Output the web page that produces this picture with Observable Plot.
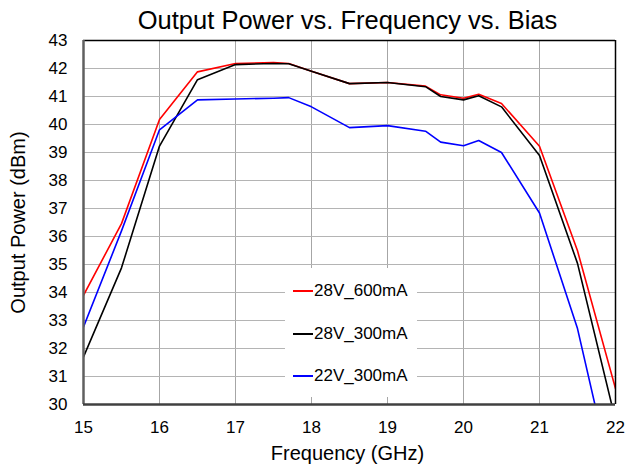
<!DOCTYPE html>
<html>
<head>
<meta charset="utf-8">
<script src="https://cdn.jsdelivr.net/npm/d3@7"></script>
<script src="https://cdn.jsdelivr.net/npm/@observablehq/plot@0.6"></script>
<style>
  html, body { margin: 0; padding: 0; background: #fff; }
  #wrap { position: relative; width: 626px; height: 465px; font-family: "Liberation Sans", Arial, sans-serif; }
  #legend { position: absolute; left: 285px; top: 268px; width: 132px; height: 129px; background: #fff; }
  .item { position: absolute; left: 8px; height: 22px; display: flex; align-items: center; font-size: 17px; color: #000; white-space: nowrap; }
  .swatch { display: inline-block; width: 20px; height: 2px; margin-right: 1px; }
</style>
</head>
<body>
<div id="wrap"></div>
<script>
const title = "Output Power vs. Frequency vs. Bias";
const xLabel = "Frequency (GHz)";
const yLabel = "Output Power (dBm)";
const xTicks = [15, 16, 17, 18, 19, 20, 21, 22];
const yTicks = [30, 31, 32, 33, 34, 35, 36, 37, 38, 39, 40, 41, 42, 43];
const freq = [15, 15.5, 16, 16.5, 17, 17.5, 17.7, 18, 18.5, 19, 19.5, 19.7, 20, 20.2, 20.5, 21, 21.5, 22];
const s28V600 = [33.9, 36.46, 40.18, 41.88, 42.18, 42.21, 42.18, 41.9, 41.46, 41.5, 41.37, 41.06, 40.94, 41.08, 40.75, 39.22, 35.49, 30.57];
const s28V300 = [31.7, 34.88, 39.23, 41.6, 42.14, 42.18, 42.17, 41.9, 41.46, 41.5, 41.35, 41.0, 40.88, 41.03, 40.63, 38.89, 35.04, 29.44];
const s22V300 = [32.77, 36.2, 39.81, 40.88, 40.91, 40.94, 40.96, 40.63, 39.89, 39.96, 39.76, 39.37, 39.24, 39.43, 39.0, 36.84, 32.71, 26.8];
const seriesNames = ["28V_600mA", "28V_300mA", "22V_300mA"];
const seriesColors = ["#ff0000", "#000000", "#0000ff"];
const seriesValues = [s28V600, s28V300, s22V300];

const data = seriesNames.flatMap((name, k) =>
  freq.map((f, i) => ({series: name, freq: f, power: seriesValues[k][i]})));

const xDomain = [xTicks[0], xTicks[xTicks.length - 1]];
const yDomain = [yTicks[0], yTicks[yTicks.length - 1]];

const chart = Plot.plot({
  width: 626,
  height: 465,
  marginLeft: 83,
  marginRight: 11,
  marginTop: 40,
  marginBottom: 61,
  style: {fontFamily: "'Liberation Sans', Arial, sans-serif", fontSize: "17px", color: "#000", background: "#fff"},
  x: {domain: xDomain, ticks: xTicks, label: null},
  y: {domain: yDomain, ticks: yTicks, label: null},
  marks: [
    Plot.gridX(xTicks, {stroke: "#a6a6a6", strokeOpacity: 1, strokeWidth: 1}),
    Plot.gridY(yTicks, {stroke: "#b4b4b4", strokeOpacity: 1, strokeWidth: 1}),
    Plot.axisX(xTicks, {tickSize: 0, tickPadding: 16, fontSize: 17, fill: "#000", label: null}),
    Plot.axisY(yTicks, {tickSize: 0, tickPadding: 16, fontSize: 17, fill: "#000", label: null}),
    ...seriesNames.map((name, k) =>
      Plot.line(data.filter(d => d.series === name), {
        x: "freq", y: "power", stroke: seriesColors[k], strokeWidth: 1.6, clip: true
      })),
    Plot.ruleY([yDomain[1]], {stroke: "#000", strokeWidth: 1.5}),
    Plot.ruleX([xDomain[1]], {stroke: "#000", strokeWidth: 1.5}),
    Plot.ruleX([xDomain[0]], {stroke: "#606060", strokeWidth: 2.5}),
    Plot.ruleY([yDomain[0]], {stroke: "#404040", strokeWidth: 2.5}),
    Plot.text([title], {frameAnchor: "top", lineAnchor: "middle", textAnchor: "middle", dy: -20, dx: -2, fontSize: 25.5, fill: "#000"}),
    Plot.text([xLabel], {frameAnchor: "bottom", lineAnchor: "middle", textAnchor: "middle", dy: 49, dx: -2, fontSize: 20, fill: "#000"}),
    Plot.text([yLabel], {frameAnchor: "left", lineAnchor: "middle", textAnchor: "middle", dx: -65, rotate: -90, fontSize: 20, fill: "#000"})
  ]
});

const wrap = document.getElementById("wrap");
wrap.appendChild(chart);

const legend = document.createElement("div");
legend.id = "legend";
const itemTops = [12, 55, 97];
seriesNames.forEach((name, k) => {
  const item = document.createElement("div");
  item.className = "item";
  item.style.top = itemTops[k] + "px";
  const sw = document.createElement("span");
  sw.className = "swatch";
  sw.style.background = seriesColors[k];
  item.appendChild(sw);
  item.appendChild(document.createTextNode(name));
  legend.appendChild(item);
});
wrap.appendChild(legend);
</script>
</body>
</html>
